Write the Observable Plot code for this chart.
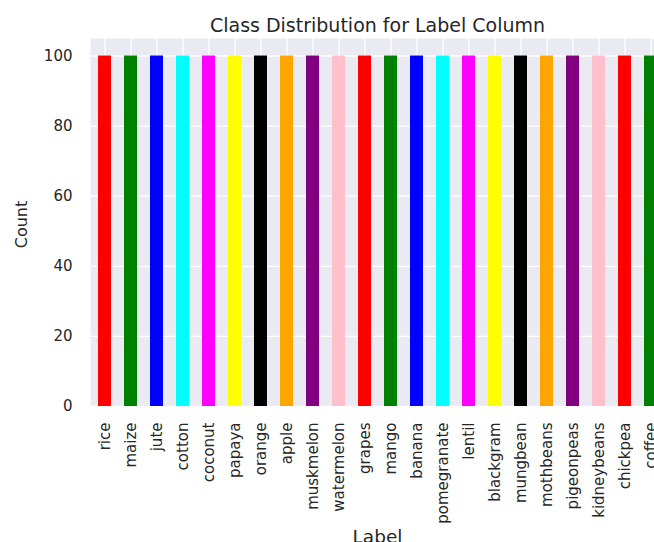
<!DOCTYPE html>
<html>
<head>
<meta charset="utf-8">
<script src="https://cdn.jsdelivr.net/npm/d3@7"></script>
<script src="https://cdn.jsdelivr.net/npm/@observablehq/plot@0.6"></script>
<style>
  html, body { margin: 0; padding: 0; background: #ffffff; overflow: hidden; }
  #chart { width: 700px; }
  #chart svg { display: block; max-width: none !important; width: 700px !important; height: 542px !important; font-family: "DejaVu Sans", sans-serif; }
</style>
</head>
<body>
<div id="chart"></div>
<script>
const labels = ["rice", "maize", "jute", "cotton", "coconut", "papaya", "orange", "apple",
  "muskmelon", "watermelon", "grapes", "mango", "banana", "pomegranate", "lentil",
  "blackgram", "mungbean", "mothbeans", "pigeonpeas", "kidneybeans", "chickpea", "coffee"];
const counts = [100, 100, 100, 100, 100, 100, 100, 100, 100, 100, 100,
  100, 100, 100, 100, 100, 100, 100, 100, 100, 100, 100];
const palette = ["red", "green", "blue", "cyan", "magenta", "yellow", "black", "orange", "purple", "pink"];
const yTicks = [0, 20, 40, 60, 80, 100];
const titleText = "Class Distribution for Label Column";
const xLabel = "Label";
const yLabel = "Count";

const data = labels.map((l, i) => ({label: l, count: counts[i], color: palette[i % palette.length]}));
const textColor = "#262626";

const chart = Plot.plot({
  width: 700,
  height: 542,
  marginLeft: 90,
  marginRight: 36,
  marginTop: 38,
  marginBottom: 136,
  style: {fontFamily: "DejaVu Sans, sans-serif", color: textColor, background: "white", overflow: "visible", maxWidth: "none"},
  x: {type: "band", domain: labels, paddingInner: 0.5, paddingOuter: 0.25, label: null},
  y: {domain: [0, 105], label: null},
  color: {type: "identity"},
  marks: [
    Plot.frame({fill: "#EAEAF2", stroke: null}),
    Plot.gridX({stroke: "white", strokeOpacity: 1, strokeWidth: 1.3}),
    Plot.gridY(yTicks, {stroke: "white", strokeOpacity: 1, strokeWidth: 1.3}),
    Plot.barY(data, {x: "label", y: "count", fill: "color"}),
    Plot.axisY(yTicks, {tickSize: 0, tickPadding: 18, fontSize: 15, fill: textColor, label: null}),
    Plot.axisX({tickRotate: -90, tickSize: 0, tickPadding: 16, fontSize: 15, fill: textColor, label: null}),
    Plot.text([yLabel], {frameAnchor: "left", textAnchor: "middle", lineAnchor: "middle", dx: -69, dy: 2, rotate: -90, fontSize: 16, fill: textColor}),
    Plot.text([xLabel], {frameAnchor: "bottom", textAnchor: "middle", lineAnchor: "middle", dy: 131, fontSize: 18.5, fill: textColor}),
    Plot.text([titleText], {frameAnchor: "top", textAnchor: "middle", lineAnchor: "middle", dy: -13, fontSize: 19, fill: textColor})
  ]
});
document.getElementById("chart").appendChild(chart);
</script>
</body>
</html>
